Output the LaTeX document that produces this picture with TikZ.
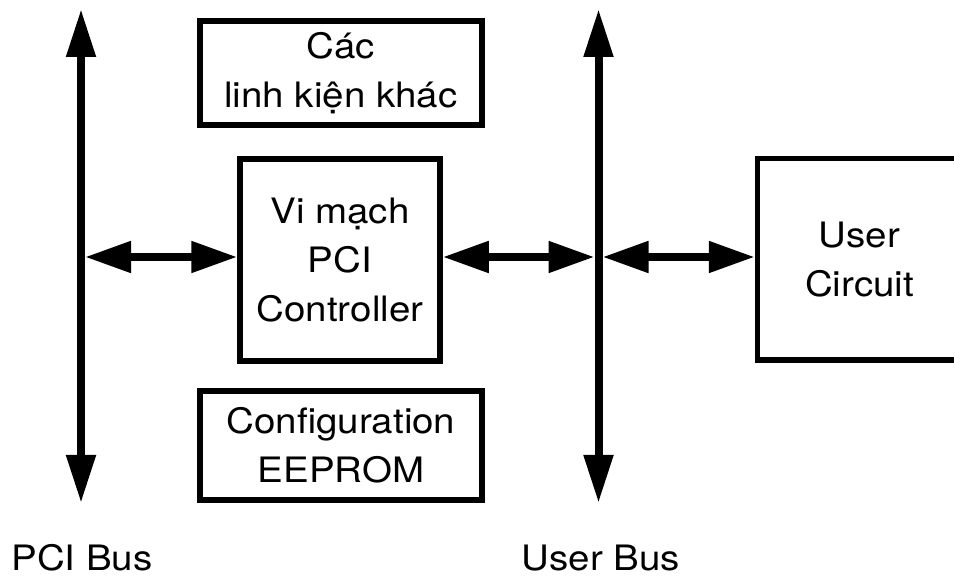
\documentclass[tikz,border=0pt]{standalone}
\usepackage{fontspec}
\setmainfont{TeX Gyre Heros}[FakeStretch=1.1]
\usetikzlibrary{arrows.meta}
\begin{document}
\begin{tikzpicture}[x=1pt,y=-1pt,
  every node/.style={font=\fontsize{35}{49}\selectfont},
  box/.style={draw, line width=5.5pt, align=center, inner sep=0pt},
  bus/.style={line width=8pt,
    {Triangle[length=48pt,width=28pt]}-{Triangle[length=48pt,width=28pt]}},
  link/.style={line width=8pt,
    {Triangle[length=46pt,width=30pt]}-{Triangle[length=46pt,width=30pt]}}
]
\clip (0,0) rectangle (954,577);

% bus end points and the row of the horizontal links
\coordinate (pciT) at (81,9);
\coordinate (pciB) at (81,503);
\coordinate (usrT) at (598.5,9);
\coordinate (usrB) at (598.5,503);
\coordinate (row) at (0,257);

% blocks
\node[box, minimum width=282pt, minimum height=104pt] (other) at (341,73)
  {Các\\linh kiện khác};
\node[box, minimum width=200pt, minimum height=202pt] (ctrl) at (340,260)
  {Vi mạch\\PCI\\Controller};
\node[box, minimum width=282pt, minimum height=109pt] (eeprom) at (341,445.5)
  {Configuration\\EEPROM};
\node[box, minimum width=204pt, minimum height=201.5pt] (uc) at (859.5,259.25)
  {User\\Circuit};

% buses
\draw[bus] (pciB) -- (pciT);
\draw[bus] (usrB) -- (usrT);

% links between buses and blocks
\draw[link, shorten <=4pt] (pciT |- row) -- (ctrl.west |- row);
\draw[link, shorten >=4pt] (ctrl.east |- row) -- (usrT |- row);
\draw[link, shorten <=4pt] (usrT |- row) -- (uc.west |- row);

% bus labels
\node[anchor=base] (pcilbl) at (82,570) {PCI Bus};
\node[anchor=base] (usrlbl) at (601,570) {User Bus};
\end{tikzpicture}
\end{document}
